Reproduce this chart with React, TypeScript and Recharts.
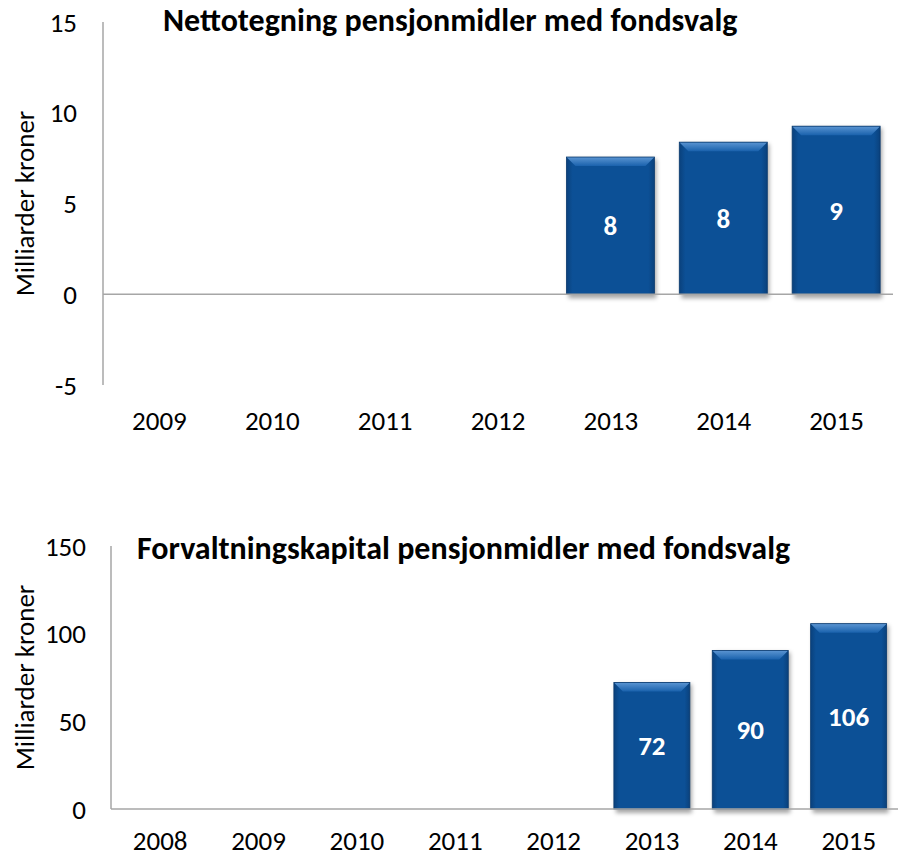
import { BarChart, Bar, XAxis, YAxis, ReferenceLine, LabelList } from "recharts";

// Nettotegning (mrd kr)
const netYears = ["2009", "2010", "2011", "2012", "2013", "2014", "2015"];
const netValues = [null, null, null, null, 7.56, 8.38, 9.26];
const netTicks = [-5, 0, 5, 10, 15];

// Forvaltningskapital (mrd kr)
const capYears = ["2008", "2009", "2010", "2011", "2012", "2013", "2014", "2015"];
const capValues = [null, null, null, null, null, 72.2, 90.4, 105.7];
const capTicks = [0, 50, 100, 150];

const FONT = "Carlito, Lato, 'Open Sans', sans-serif";
const AXIS_GREY = "#a6a6a6";

const netData = netYears.map((year, i) => ({ year, value: netValues[i] }));
const capData = capYears.map((year, i) => ({ year, value: capValues[i] }));

// bar with bevelled top and soft shadow, like the Excel preset
function BevelBar(props: any) {
  const { x, y, width, height, prefix } = props;
  if (!height || height <= 0) return null;
  const b = 9;
  return (
    <g>
      <rect
        x={x + 2}
        y={y + 2}
        width={width}
        height={height + 2}
        fill="rgba(0,0,0,0.35)"
        filter={`url(#${prefix}-shadow)`}
      />
      <rect x={x} y={y} width={width} height={height} fill={`url(#${prefix}-body)`} />
      <polygon
        points={`${x},${y} ${x + width},${y} ${x + width - b},${y + b} ${x + b},${y + b}`}
        fill={`url(#${prefix}-top)`}
      />
      <rect x={x} y={y} width={width} height={height} fill="none" stroke="#0a3a6e" strokeWidth={0.8} />
    </g>
  );
}

function Defs({ prefix }: { prefix: string }) {
  return (
    <defs>
      <linearGradient id={`${prefix}-body`} x1="0" y1="0" x2="1" y2="0">
        <stop offset="0%" stopColor="#0a417c" />
        <stop offset="7%" stopColor="#0c5096" />
        <stop offset="93%" stopColor="#0c5096" />
        <stop offset="100%" stopColor="#0a417c" />
      </linearGradient>
      <linearGradient id={`${prefix}-top`} x1="0" y1="0" x2="0" y2="1">
        <stop offset="0%" stopColor="#5b95d2" />
        <stop offset="100%" stopColor="#1a62ad" />
      </linearGradient>
      <filter id={`${prefix}-shadow`} x="-20%" y="-20%" width="140%" height="140%">
        <feGaussianBlur stdDeviation="2" />
      </filter>
    </defs>
  );
}

const tickStyle = { fontFamily: FONT, fontSize: 27, fill: "#000" };
const labelStyle = { fontFamily: FONT, fontSize: 27, fontWeight: 700, fill: "#fff" };
const yLabelStyle = { textAnchor: "middle", fontFamily: FONT, fontSize: 27, fill: "#000" } as any;
const fmt = (v: any) => (v == null ? "" : Math.round(v));

export default function App() {
  return (
    <div style={{ position: "absolute", left: 0, top: 0, width: 899, height: 856, background: "#fff", overflow: "hidden" }}>
      <div style={{ position: "absolute", left: 0, top: 0 }}>
        <BarChart width={899} height={450} data={netData} margin={{ top: 22, right: 6, left: 0, bottom: 0 }}>
          <Defs prefix="net" />
          <XAxis
            dataKey="year"
            axisLine={false}
            tickLine={false}
            tickSize={0}
            tickMargin={26}
            height={65}
            tick={tickStyle}
            interval={0}
          />
          <YAxis
            domain={[-5, 15]}
            ticks={netTicks}
            width={103}
            axisLine={{ stroke: AXIS_GREY, strokeWidth: 1.5 }}
            tickLine={false}
            tickSize={0}
            tickMargin={26}
            tick={tickStyle}
            label={{ value: "Milliarder kroner", angle: -90, position: "insideLeft", offset: 24, style: yLabelStyle }}
          />
          <ReferenceLine y={0} stroke={AXIS_GREY} strokeWidth={1.5} />
          <Bar dataKey="value" barSize={88} isAnimationActive={false} shape={<BevelBar prefix="net" />}>
            <LabelList dataKey="value" position="center" formatter={fmt} style={labelStyle} />
          </Bar>
        </BarChart>
      </div>

      <div style={{ position: "absolute", left: 0, top: 500 }}>
        <BarChart width={899} height={356} data={capData} margin={{ top: 46, right: 1, left: 0, bottom: 0 }}>
          <Defs prefix="cap" />
          <XAxis
            dataKey="year"
            axisLine={{ stroke: AXIS_GREY, strokeWidth: 1.5 }}
            tickLine={false}
            tickSize={0}
            tickMargin={22}
            height={47}
            tick={tickStyle}
            interval={0}
          />
          <YAxis
            domain={[0, 150]}
            ticks={capTicks}
            width={111}
            axisLine={{ stroke: AXIS_GREY, strokeWidth: 1.5 }}
            tickLine={false}
            tickSize={0}
            tickMargin={25}
            tick={tickStyle}
            label={{ value: "Milliarder kroner", angle: -90, position: "insideLeft", offset: 24, style: yLabelStyle }}
          />
          <Bar dataKey="value" barSize={76} isAnimationActive={false} shape={<BevelBar prefix="cap" />}>
            <LabelList dataKey="value" position="center" formatter={fmt} style={labelStyle} />
          </Bar>
        </BarChart>
      </div>

      {/* chart titles */}
      <svg
        width={899}
        height={856}
        style={{ position: "absolute", left: 0, top: 0, pointerEvents: "none" }}
      >
        <text x={163} y={31} fontFamily={FONT} fontSize={32} fontWeight={700} fill="#000">
          Nettotegning pensjonmidler med fondsvalg
        </text>
        <text x={137} y={559} fontFamily={FONT} fontSize={32} fontWeight={700} fill="#000">
          Forvaltningskapital pensjonmidler med fondsvalg
        </text>
      </svg>
    </div>
  );
}
